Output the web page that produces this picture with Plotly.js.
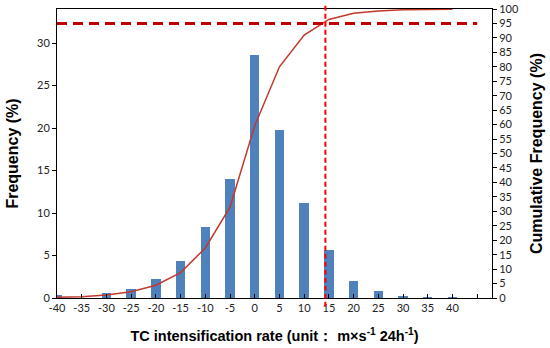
<!DOCTYPE html>
<html>
<head>
<meta charset="utf-8">
<script src="https://cdn.plot.ly/plotly-3.0.1.min.js"></script>
<style>html,body{margin:0;padding:0;background:#fff;}#chart{width:550px;height:348px;}</style>
</head>
<body>
<div id="chart"></div>
<script>
const rates = [-40, -35, -30, -25, -20, -15, -10, -5, 0, 5, 10, 15, 20, 25, 30, 35, 40];
const frequency = [0.3, 0.0, 0.6, 1.1, 2.2, 4.4, 8.4, 14.0, 28.6, 19.8, 11.2, 5.6, 2.0, 0.86, 0.27, 0.15, 0.1];
const cumulative = [0.3, 0.4, 1.0, 2.2, 4.4, 8.8, 17.3, 31.4, 59.6, 80.0, 91.0, 96.4, 98.5, 99.3, 99.7, 99.8, 99.9];
const tickVals = [-40, -35, -30, -25, -20, -15, -10, -5, 0, 5, 10, 15, 20, 25, 30, 35, 40, 45];
const tickLabels = ['-40', '-35', '-30', '-25', '-20', '-15', '-10', '-5', '0', '5', '10', '15', '20', '25', '30', '35', '40', ' '];
const threshold = 95;
const thresholdRate = 14.3;

const tickFont = {family: 'Lato, "Open Sans", sans-serif', size: 11, color: '#222'};
const titleFont = {family: '"Liberation Sans", Arial, sans-serif', size: 16, color: '#000', weight: 'bold'};

const data = [
  {
    type: 'bar', x: rates, y: frequency, width: 1.9,
    marker: {color: '#4F81BD', line: {width: 0}},
    yaxis: 'y', showlegend: false, hoverinfo: 'x+y'
  },
  {
    type: 'scatter', mode: 'lines', x: rates, y: cumulative,
    line: {color: '#C0392B', width: 1.5},
    yaxis: 'y2', showlegend: false, cliponaxis: false
  }
];

const layout = {
  width: 550, height: 348,
  margin: {l: 57, r: 58, t: 9, b: 50},
  paper_bgcolor: '#fff', plot_bgcolor: '#fff',
  bargap: 0,
  xaxis: {
    range: [-40, 48], tickmode: 'array', tickvals: tickVals, ticktext: tickLabels,
    showgrid: false, zeroline: false,
    showline: true, linecolor: '#000', linewidth: 1, mirror: true,
    ticks: 'inside', ticklen: 4, tickcolor: '#000',
    tickfont: tickFont,
    title: {text: 'TC intensification rate (unit： m×s<sup>-1</sup> 24h<sup>-1</sup>)', font: {family: '"Liberation Sans", Arial, sans-serif', size: 14.5, color: '#000', weight: 'bold'}, standoff: 17}
  },
  yaxis: {
    range: [0, 34], dtick: 5, tick0: 0,
    showgrid: false, zeroline: false,
    showline: true, linecolor: '#000', linewidth: 1,
    ticks: 'outside', ticklen: 4, tickcolor: '#000',
    tickfont: tickFont,
    title: {text: 'Frequency (%)', font: titleFont, standoff: 14}
  },
  yaxis2: {
    range: [0, 100], dtick: 5, tick0: 0, overlaying: 'y', side: 'right',
    showgrid: false, zeroline: false,
    showline: true, linecolor: '#000', linewidth: 1,
    ticks: 'outside', ticklen: 4, tickcolor: '#000',
    tickfont: tickFont,
    title: {text: 'Cumulative Frequency (%)', font: titleFont, standoff: 12}
  },
  shapes: [
    {type: 'line', xref: 'x', yref: 'y2', x0: -40, x1: 45, y0: threshold, y1: threshold,
     line: {color: '#C00000', width: 3, dash: '10px,6px'}, layer: 'above'},
    {type: 'line', xref: 'x', yref: 'paper', x0: thresholdRate, x1: thresholdRate, y0: -0.03, y1: 1.015,
     line: {color: '#FF0000', width: 2, dash: '5px,3px'}, layer: 'above'}
  ]
};

Plotly.newPlot('chart', data, layout, {staticPlot: true, displayModeBar: false});
</script>
</body>
</html>
